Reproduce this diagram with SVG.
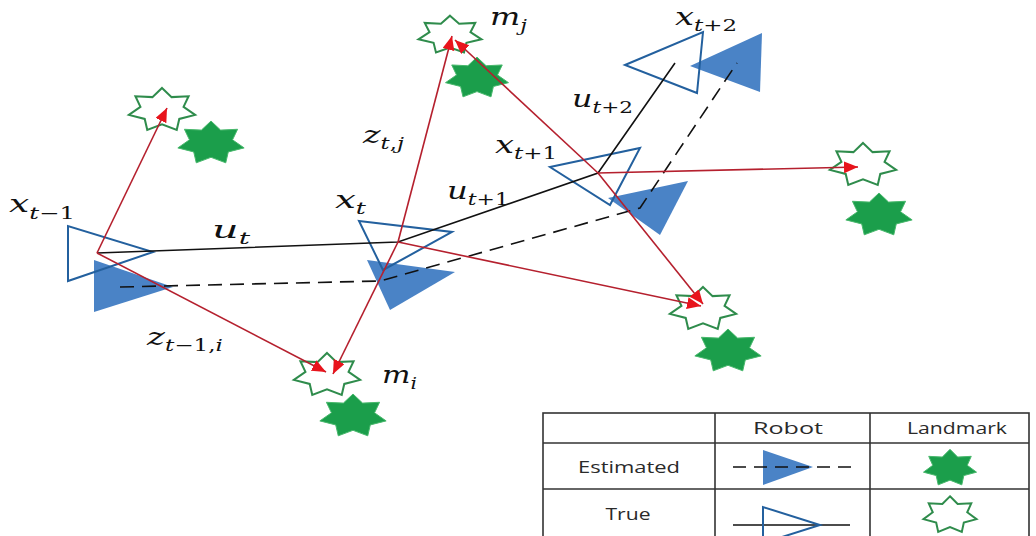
<svg xmlns="http://www.w3.org/2000/svg" xmlns:xlink="http://www.w3.org/1999/xlink" width="1036" height="536" viewBox="0 0 1036 536">
<style>
.est{fill:#4a83c6;stroke:none}
.tru{fill:none;stroke:#23609e;stroke-width:2;stroke-linejoin:miter}
.sf{fill:#1b9e4b;stroke:#48b86c;stroke-width:1}
.so{fill:#fff;stroke:#2f8c4c;stroke-width:2}
.path{fill:none;stroke:#111;stroke-width:1.6}
.dash{fill:none;stroke:#111;stroke-width:1.6;stroke-dasharray:14 8}
.obs{fill:none;stroke:#b5202e;stroke-width:1.6;marker-end:url(#ah)}
.m{font-family:"DejaVu Serif","Liberation Serif",serif;font-style:italic;font-size:25px;fill:#111}
.s{font-size:17px}
.n{font-style:normal}
.tb{fill:none;stroke:#333;stroke-width:1.6}
.tt{font-family:"Open Sans","Liberation Sans",sans-serif;font-size:17px;fill:#2a2a2a;text-anchor:middle}
</style>
<defs>
<marker id="ah" markerUnits="userSpaceOnUse" markerWidth="16" markerHeight="14" refX="14" refY="6" orient="auto">
<path d="M0,0 L14,6 L0,12 Z" fill="#e8141c"/>
</marker>
<path id="star" vector-effect="non-scaling-stroke" d="M0,-22 L9.59,-12.88 L26.58,-13.72 L21.55,-3.18 L33.15,4.9 L17.28,8.92 L14.75,19.82 L0,14.3 L-14.75,19.82 L-17.28,8.92 L-33.15,4.9 L-21.55,-3.18 L-26.58,-13.72 L-9.59,-12.88 Z"/>
</defs>
<rect width="1036" height="536" fill="#fff"/>

<g id="landmarks">
<g id="lmA-est"><use xlink:href="#star" class="sf" transform="translate(211,143)"/></g>
<g id="lmA-true"><use xlink:href="#star" class="so" transform="translate(162,110)"/></g>
<g id="mj-est"><use xlink:href="#star" class="sf" transform="translate(477,78) scale(0.95,0.95)"/></g>
<g id="mj-true"><use xlink:href="#star" class="so" transform="translate(450,35) scale(0.95,0.88)"/></g>
<g id="lmB-est"><use xlink:href="#star" class="sf" transform="translate(879,215)"/></g>
<g id="lmB-true"><use xlink:href="#star" class="so" transform="translate(863,165)"/></g>
<g id="lmC-est"><use xlink:href="#star" class="sf" transform="translate(728,351)"/></g>
<g id="lmC-true"><use xlink:href="#star" class="so" transform="translate(703,309)"/></g>
<g id="mi-est"><use xlink:href="#star" class="sf" transform="translate(353,416)"/></g>
<g id="mi-true"><use xlink:href="#star" class="so" transform="translate(327,375)"/></g>
</g>

<g id="robots">
<g id="xtm1-est"><polygon class="est" points="94,260 94,312 173,287"/></g>
<g id="xt-est"><polygon class="est" points="367,260 455,272 390,310"/></g>
<g id="xtp1-est"><polygon class="est" points="608,198 688,181 660,235"/></g>
<g id="xtp2-est"><polygon class="est" points="690,66 762,33 760,92"/></g>
<g id="xtm1-true"><polygon class="tru" points="68,226 68,281 153,252"/></g>
<g id="xt-true"><polygon class="tru" points="359,221 452,232 383,270"/></g>
<g id="xtp1-true"><polygon class="tru" points="550,167 640,148 610,205"/></g>
<g id="xtp2-true"><polygon class="tru" points="625,65 703,32 697,93"/></g>
</g>

<g id="connectors">
<polyline class="path" points="97,253 398,242 598,173 675,63"/>
<polyline class="dash" points="120,287 380,281 640,208 737,63"/>
<line class="obs" x1="97" y1="253" x2="167" y2="108"/>
<line class="obs" x1="97" y1="253" x2="326" y2="372"/>
<line class="obs" x1="398" y1="242" x2="452" y2="36"/>
<line class="obs" x1="398" y1="242" x2="333" y2="374"/>
<line class="obs" x1="398" y1="242" x2="701" y2="306"/>
<line class="obs" x1="598" y1="173" x2="455" y2="40"/>
<line class="obs" x1="598" y1="173" x2="703" y2="304"/>
<line class="obs" x1="598" y1="173" x2="858" y2="167"/>
</g>

<g id="labels">
<text class="m" x="9" y="212" textLength="66" lengthAdjust="spacingAndGlyphs">x<tspan class="s" dy="7">t</tspan><tspan class="s n">−1</tspan></text>
<text class="m" x="212" y="238" textLength="38" lengthAdjust="spacingAndGlyphs">u<tspan class="s" dy="6">t</tspan></text>
<text class="m" x="335" y="208" textLength="31" lengthAdjust="spacingAndGlyphs">x<tspan class="s" dy="6">t</tspan></text>
<text class="m" x="363" y="143" textLength="41" lengthAdjust="spacingAndGlyphs">z<tspan class="s" dy="6">t<tspan class="n">,</tspan>j</tspan></text>
<text class="m" x="447" y="199" textLength="62" lengthAdjust="spacingAndGlyphs">u<tspan class="s" dy="6">t</tspan><tspan class="s n">+1</tspan></text>
<text class="m" x="495" y="153" textLength="62" lengthAdjust="spacingAndGlyphs">x<tspan class="s" dy="6">t</tspan><tspan class="s n">+1</tspan></text>
<text class="m" x="572" y="107" textLength="61" lengthAdjust="spacingAndGlyphs">u<tspan class="s" dy="6">t</tspan><tspan class="s n">+2</tspan></text>
<text class="m" x="675" y="25" textLength="62" lengthAdjust="spacingAndGlyphs">x<tspan class="s" dy="6">t</tspan><tspan class="s n">+2</tspan></text>
<text class="m" x="490" y="25" textLength="37" lengthAdjust="spacingAndGlyphs">m<tspan class="s" dy="6">j</tspan></text>
<text class="m" x="147" y="345" textLength="76" lengthAdjust="spacingAndGlyphs">z<tspan class="s" dy="6">t</tspan><tspan class="s n">−1,</tspan><tspan class="s">i</tspan></text>
<text class="m" x="382" y="383" textLength="35" lengthAdjust="spacingAndGlyphs">m<tspan class="s" dy="6">i</tspan></text>
</g>

<g id="legend">
<rect class="tb" x="543" y="413" width="486" height="126"/>
<line class="tb" x1="543" y1="443" x2="1029" y2="443"/>
<line class="tb" x1="543" y1="489" x2="1029" y2="489"/>
<line class="tb" x1="715" y1="413" x2="715" y2="536"/>
<line class="tb" x1="870" y1="413" x2="870" y2="536"/>
<text class="tt" x="788" y="434" textLength="70" lengthAdjust="spacingAndGlyphs">Robot</text>
<text class="tt" x="957" y="434" textLength="100" lengthAdjust="spacingAndGlyphs">Landmark</text>
<text class="tt" x="629" y="473" textLength="102" lengthAdjust="spacingAndGlyphs">Estimated</text>
<text class="tt" x="628" y="520" textLength="45" lengthAdjust="spacingAndGlyphs">True</text>
<polygon class="est" points="763,450 763,485 813,467"/>
<line class="dash" x1="733" y1="467" x2="852" y2="467" style="stroke-dasharray:13 8"/>
<line class="path" x1="733" y1="525" x2="850" y2="525"/>
<polygon class="tru" points="763,507 763,543 820,525"/>
<use xlink:href="#star" class="sf" transform="translate(950,468) scale(0.8,0.85)"/>
<use xlink:href="#star" class="so" transform="translate(950,515) scale(0.8,0.85)"/>
</g>
</svg>
